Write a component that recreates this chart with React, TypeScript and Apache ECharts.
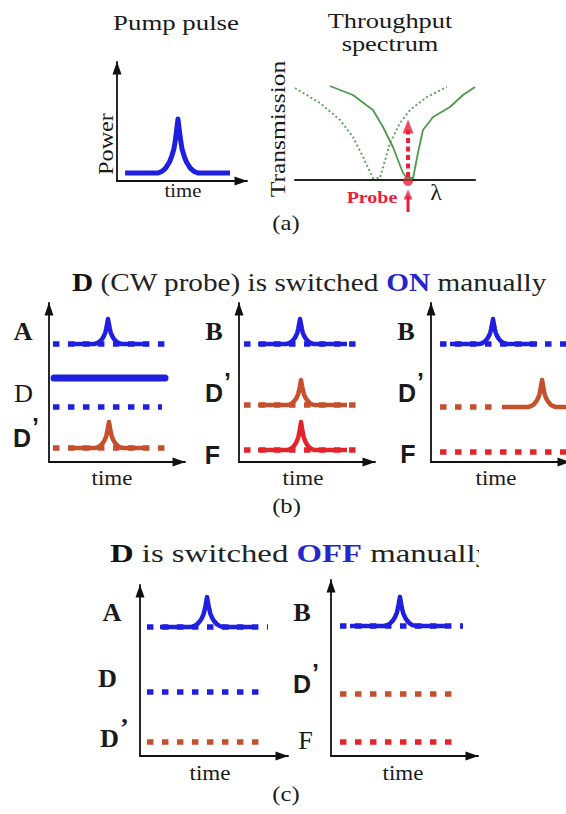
import React, { useEffect, useRef } from 'react';
import * as echarts from 'echarts';

const W = 566;
const H = 814;

// ---------- data ----------
// Pulse shape: offset (in pulse half-widths) and fraction of the peak height
const PULSE_DX = [-1.25, -1.0, -0.77, -0.54, -0.4, -0.25, -0.17, -0.11, 0, 0.11, 0.17, 0.25, 0.4, 0.54, 0.77, 1.0, 1.25];
const PULSE_DY = [0, 0.03, 0.09, 0.2, 0.3, 0.45, 0.6, 0.73, 1, 0.73, 0.6, 0.45, 0.3, 0.2, 0.09, 0.03, 0];

// (a) pump pulse: [level, from, to, peak time, peak height, half-width]
const PUMP = [0.67, 0.62, 8.69, 4.69, 4.54, 1.23];

// (a) throughput spectrum (transmission vs wavelength)
const SPEC_DOTTED_X = [0, 1.39, 2.5, 3.22, 3.78, 4.33, 4.72, 5.28, 5.83, 6.39, 7.33, 8.44];
const SPEC_DOTTED_Y = [9.2, 7.7, 6.0, 4.3, 2.3, 0.2, 0.2, 3.7, 5.7, 7.0, 8.3, 9.3];
const SPEC_SOLID_X = [1.94, 3.22, 4.33, 4.89, 5.44, 6.0, 6.22, 6.56, 6.83, 7.11, 7.67, 8.61, 9.33, 10.0];
const SPEC_SOLID_Y = [9.4, 8.5, 7.0, 5.3, 3.3, 0.7, 0.2, 0.2, 2.7, 5.0, 6.3, 7.3, 8.5, 9.3];
const PROBE_LAMBDA = 6.28;
const PROBE_ARROW = [0.3, 5.0]; // dashed shaft from/to (transmission units)

// Traces: [label, level, dotted from, dotted to, solid from, solid to, pulse time, pulse height]
type Row = [string, number, number, number, number | null, number | null, number | null, number | null];
const B_LEFT_ROWS: Row[] = [
  ['A', 7.42, 0.29, 8.75, 1.69, 7.28, 4.34, 1.57],
  ['D', 3.46, 0.29, 8.31, null, null, null, null],
  ["D'", 0.88, 0.29, 8.75, 1.69, 7.28, 4.41, 1.64],
];
const B_LEFT_CW = [5.28, 0.37, 8.53]; // CW probe D: level, from, to
const B_MID_ROWS: Row[] = [
  ['B', 7.42, 0.37, 9.04, 1.4, 7.94, 4.49, 1.57],
  ["D'", 3.58, 0.37, 9.04, 1.4, 7.94, 4.56, 1.57],
  ['F', 0.75, 0.37, 9.04, 1.4, 7.94, 4.56, 1.76],
];
const B_RIGHT_ROWS: Row[] = [
  ['B', 7.42, 0.65, 10, 1.37, 7.63, 4.46, 1.57],
  ["D'", 3.46, 0.65, 4.75, 5.11, 10, 7.99, 1.7],
  ['F', 0.63, 0.65, 10, null, null, null, null],
];
const C_LEFT_ROWS: Row[] = [
  ['A', 7.54, 0.47, 8.65, 1.35, 7.64, 4.53, 1.75],
  ['D', 3.74, 0.47, 8.31, null, null, null, null],
  ["D'", 0.82, 0.47, 8.31, null, null, null, null],
];
const C_RIGHT_ROWS: Row[] = [
  ['B', 7.39, 0.61, 8.98, 1.29, 7.82, 4.69, 1.65],
  ["D'", 3.52, 0.61, 8.5, null, null, null, null],
  ['F', 0.8, 0.61, 8.5, null, null, null, null],
];
const PANEL_ROWS = [B_LEFT_ROWS, B_MID_ROWS, B_RIGHT_ROWS, C_LEFT_ROWS, C_RIGHT_ROWS];
const PANEL_HALF_WIDTH = [0.81, 0.81, 0.79, 0.88, 0.85];

// ---------- layout & style ----------
// grid boxes [left, top, width, height]
const GRID_BOXES = [
  [117, 62, 130, 119],
  [295, 80, 180, 132],
  [49, 303, 136, 159],
  [239, 303, 136, 159],
  [431, 303, 139, 159],
  [140, 585, 148, 171],
  [331, 580, 147, 176],
];
const PANEL_GRID = [2, 3, 4, 5, 6];

const BLUE = '#1f1fe0';
const BROWN = '#c5502d';
const RED = '#e3242b';
const GREEN_SOLID = '#4d9a4d';
const GREEN_DOT = '#5fa85f';
const PROBE_RED = '#e8203c';
const INK = '#1a1a1a';
const ROW_COLOR: Record<string, string> = { A: BLUE, B: BLUE, D: BLUE, "D'": BROWN, F: RED };

const SERIF = '"Liberation Serif", "Times New Roman", serif';
const SANS = '"Liberation Sans", Arial, sans-serif';

function pulsePath(from: number, to: number, level: number, t: number, h: number, hw: number) {
  const pts: number[][] = [[from, level]];
  PULSE_DX.forEach((d, i) => pts.push([t + d * hw, level + PULSE_DY[i] * h]));
  pts.push([to, level]);
  return pts;
}

function txt(x: number, y: number, text: string, size: number, o: any = {}) {
  const family = o.family || SERIF;
  const weight = o.weight || 'normal';
  const align = o.align || 'center';
  return {
    type: 'text',
    x,
    y,
    rotation: o.rot || 0,
    scaleX: o.sx || 1,
    silent: true,
    style: {
      text,
      font: `${weight} ${size}px ${family}`,
      fill: o.color || INK,
      align,
      verticalAlign: 'middle',
      textAlign: align,
      textVerticalAlign: 'middle',
      rich: o.rich,
    },
  };
}

// "D’" label with a raised prime, drawn as one rich text
function primeLabel(left: number, mid: number, family: string, sx = 1) {
  const font = `bold 25px ${family}`;
  const raise = 11;
  return {
    type: 'text',
    x: left,
    y: mid - raise / 2,
    scaleX: sx,
    silent: true,
    style: {
      text: '{d|D}{a|’}',
      font,
      fill: INK,
      align: 'left',
      verticalAlign: 'middle',
      textAlign: 'left',
      textVerticalAlign: 'middle',
      rich: {
        d: { font, fill: INK, lineHeight: 26, verticalAlign: 'bottom' },
        a: { font, fill: INK, lineHeight: 26, verticalAlign: 'bottom', padding: [0, 0, raise, 1] },
      },
    },
  };
}

function buildOption() {
  const grid = GRID_BOXES.map(([l, t, w, h]) => ({ left: l, top: t, width: w, height: h, containLabel: false, outerBoundsMode: 'none' }));
  const axisLineArrow = {
    show: true,
    onZero: false,
    symbol: ['none', 'triangle'],
    symbolSize: [9, 13],
    symbolOffset: [0, -6],
    lineStyle: { color: '#111', width: 1.8 },
  };
  const hidden = { axisTick: { show: false }, axisLabel: { show: false }, splitLine: { show: false } };
  const xAxis: any[] = GRID_BOXES.map((_, i) => ({
    gridIndex: i,
    type: 'value',
    min: 0,
    max: 10,
    axisLine: i === 1 ? { show: true, onZero: true, lineStyle: { color: '#222', width: 2 } } : axisLineArrow,
    ...hidden,
  }));
  const yAxis: any[] = GRID_BOXES.map((_, i) => ({
    gridIndex: i,
    type: 'value',
    min: i === 1 ? -3.2 : 0,
    max: 10,
    show: i !== 1,
    axisLine: axisLineArrow,
    ...hidden,
  }));

  const series: any[] = [];
  const line = (gi: number, data: number[][], color: string, width: number, type: any = 'solid', cap = 'butt') => ({
    type: 'line',
    xAxisIndex: gi,
    yAxisIndex: gi,
    data,
    showSymbol: false,
    symbol: 'none',
    silent: true,
    lineStyle: { color, width, type, cap, join: 'round' },
  });

  // (a) pump
  const [pl, pf, pt, pk, ph, phw] = PUMP;
  series.push(line(0, pulsePath(pf, pt, pl, pk, ph, phw), BLUE, 5));

  // (a) spectrum
  series.push(line(1, SPEC_DOTTED_X.map((x, i) => [x, SPEC_DOTTED_Y[i]]), GREEN_DOT, 2, [2, 2.5]));
  series.push(line(1, SPEC_SOLID_X.map((x, i) => [x, SPEC_SOLID_Y[i]]), GREEN_SOLID, 1.8));
  series.push(line(1, [[PROBE_LAMBDA, PROBE_ARROW[0]], [PROBE_LAMBDA, PROBE_ARROW[1]]], PROBE_RED, 4, [5, 3.5]));
  series.push(line(1, [[PROBE_LAMBDA, -3.2], [PROBE_LAMBDA, -1.6]], PROBE_RED, 3));
  series.push({
    type: 'scatter', xAxisIndex: 1, yAxisIndex: 1, silent: true,
    data: [[PROBE_LAMBDA, PROBE_ARROW[1] + 0.35]], symbol: 'triangle', symbolSize: [11, 14],
    itemStyle: { color: PROBE_RED },
  });
  series.push({
    type: 'scatter', xAxisIndex: 1, yAxisIndex: 1, silent: true,
    data: [[PROBE_LAMBDA, -1.45]], symbol: 'triangle', symbolSize: [9, 10],
    itemStyle: { color: PROBE_RED },
  });
  series.push({
    type: 'scatter', xAxisIndex: 1, yAxisIndex: 1, silent: true,
    data: [[PROBE_LAMBDA, -0.1]], symbol: 'circle', symbolSize: 10,
    itemStyle: { color: PROBE_RED },
  });

  // (b), (c) traces
  PANEL_ROWS.forEach((rows, p) => {
    const gi = PANEL_GRID[p];
    const hw = PANEL_HALF_WIDTH[p];
    rows.forEach(([lab, lev, df, dt, sf, st, t, h]) => {
      const c = ROW_COLOR[lab];
      series.push(line(gi, [[df, lev], [dt, lev]], c, 5.5, [6.5, 8.5]));
      if (sf != null && st != null && t != null && h != null) {
        series.push(line(gi, pulsePath(sf, st, lev, t, h, hw), c, 4.5));
      }
    });
  });
  series.push(line(2, [[B_LEFT_CW[1], B_LEFT_CW[0]], [B_LEFT_CW[2], B_LEFT_CW[0]]], BLUE, 7, 'solid', 'round'));

  // ---------- texts ----------
  const g: any[] = [];
  g.push(txt(176, 22, 'Pump pulse', 22, { sx: 1.22 }));
  g.push(txt(390, 20, 'Throughput', 22, { sx: 1.2 }));
  g.push(txt(390, 43, 'spectrum', 22, { sx: 1.2 }));
  g.push(txt(105, 144, 'Power', 22, { sx: 1.1, rot: Math.PI / 2 }));
  g.push(txt(278, 129, 'Transmission', 22, { sx: 1.16, rot: Math.PI / 2 }));
  g.push(txt(183, 191, 'time', 18, { sx: 1.15 }));
  g.push(txt(436, 192, 'λ', 24));
  g.push(txt(372, 198, 'Probe', 16, { sx: 1.25, weight: 'bold', color: PROBE_RED }));
  g.push(txt(286, 222, '(a)', 22, { sx: 1.12 }));
  g.push(txt(286.5, 505, '(b)', 22, { sx: 1.12 }));
  g.push(txt(286, 793, '(c)', 22, { sx: 1.12 }));

  const titleRich = (size: number) => ({
    d: { font: `bold ${size}px ${SERIF}`, fill: '#111' },
    on: { font: `bold ${size}px ${SERIF}`, fill: '#2626cc' },
  });
  g.push(txt(72, 283, '{d|D} (CW probe) is switched {on|ON} manually', 25, { sx: 1.17, align: 'left', rich: titleRich(25), color: '#222' }));
  g.push(txt(110, 553, '{d|D} is switched {on|OFF} manually', 26, { sx: 1.26, align: 'left', rich: titleRich(26), color: '#222' }));
  g.push({ type: 'rect', shape: { x: 479, y: 536, width: 90, height: 36 }, style: { fill: '#fff' }, silent: true });

  // time labels
  [[112, 478.4], [303, 478.4], [496, 478.4], [210, 773.4], [403, 773.4]].forEach(([x, y]) =>
    g.push(txt(x, y, 'time', 20, { sx: 1.15 }))
  );

  const serifB = { weight: 'bold', sx: 1.05 };
  const sansB = { weight: 'bold', family: SANS };
  // (b) left
  g.push(txt(23, 331.5, 'A', 25, serifB));
  g.push(txt(23.5, 393.5, 'D', 25, { sx: 1.05 }));
  g.push(primeLabel(13, 442.5, SANS));
  // (b) middle
  g.push(txt(214, 331.5, 'B', 25, serifB));
  g.push(primeLabel(205, 397.5, SANS));
  g.push(txt(212.5, 454.5, 'F', 25, sansB));
  // (b) right
  g.push(txt(406, 332, 'B', 25, serifB));
  g.push(primeLabel(398, 397.5, SANS));
  g.push(txt(408, 453.5, 'F', 25, sansB));
  // (c) left
  g.push(txt(112, 612.5, 'A', 25, serifB));
  g.push(txt(107.5, 678.5, 'D', 25, serifB));
  g.push(primeLabel(100, 744, SERIF, 1.05));
  // (c) right
  g.push(txt(302, 612.5, 'B', 25, serifB));
  g.push(primeLabel(293, 688.5, SANS));
  g.push(txt(305.5, 740.5, 'F', 25, { sx: 1.05 }));

  return {
    animation: false,
    backgroundColor: '#fff',
    grid,
    xAxis,
    yAxis,
    series,
    graphic: { elements: g },
  };
}

export default function App() {
  const ref = useRef<HTMLDivElement>(null);
  useEffect(() => {
    if (!ref.current) return;
    const chart = echarts.init(ref.current, null, { renderer: 'svg', width: W, height: H });
    chart.setOption(buildOption() as any);
    return () => chart.dispose();
  }, []);
  return <div ref={ref} style={{ position: 'absolute', left: 0, top: 0, width: W, height: H, background: '#fff' }} />;
}
